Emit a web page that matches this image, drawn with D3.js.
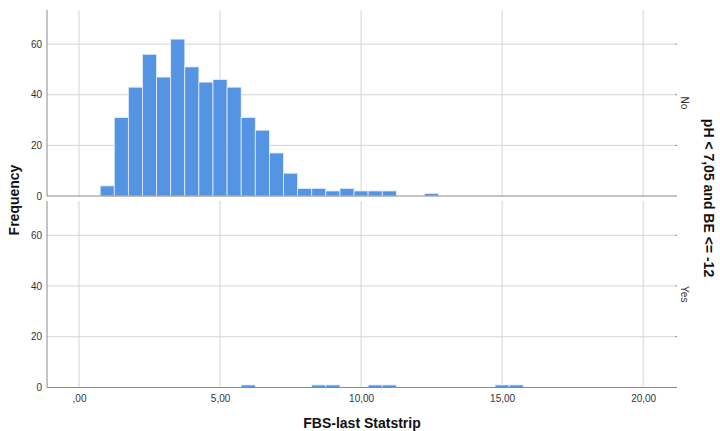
<!DOCTYPE html>
<html><head><meta charset="utf-8">
<script src="https://cdn.jsdelivr.net/npm/d3@7"></script>
<style>body{margin:0;background:#fff}svg{display:block;font-family:"Liberation Sans",Arial,sans-serif}</style>
</head><body><svg id="c" width="720" height="431"></svg>
<script>
const binWidth = 0.5;
const noCenters = [1.0,1.5,2.0,2.5,3.0,3.5,4.0,4.5,5.0,5.5,6.0,6.5,7.0,7.5,8.0,8.5,9.0,9.5,10.0,10.5,11.0,12.5];
const noCounts  = [4,31,43,56,47,62,51,45,46,43,31,26,17,9,3,3,2,3,2,2,2,1];
const yesCenters = [6.0,8.5,9.0,10.5,11.0,15.0,15.5];
const yesCounts  = [1,1,1,1,1,1,1];
const xTicks = [0,5,10,15,20];
const xTickLabels = [",00","5,00","10,00","15,00","20,00"];
const yTicks = [0,20,40,60];
const panelLabels = ["No","Yes"];

const svg = d3.select("#c");
const x = d3.scaleLinear().domain([-1.135, 21.2]).range([47, 677]);
const panels = [
  {label: panelLabels[0], centers: noCenters, counts: noCounts, top: 10, bottom: 196},
  {label: panelLabels[1], centers: yesCenters, counts: yesCounts, top: 201, bottom: 387.5}
];
const grid = "#d4d4d4", axisC = "#8a8a8a", txt = "#333";

panels.forEach(p => {
  const y = d3.scaleLinear().domain([0, 73.5]).range([p.bottom, p.top]);
  const g = svg.append("g");
  // horizontal grid
  g.selectAll(".hg").data(yTicks.filter(d => d > 0)).join("line")
    .attr("x1", 47).attr("x2", 675).attr("y1", d => y(d)).attr("y2", d => y(d))
    .attr("stroke", grid).attr("stroke-width", 1);
  // vertical grid
  g.selectAll(".vg").data(xTicks).join("line")
    .attr("x1", d => x(d)).attr("x2", d => x(d)).attr("y1", p.top).attr("y2", p.bottom)
    .attr("stroke", grid).attr("stroke-width", 1);
  // bars
  g.selectAll(".bar").data(p.centers.map((c, i) => ({c, v: p.counts[i]}))).join("rect")
    .attr("x", d => x(d.c - binWidth / 2)).attr("width", d => x(d.c + binWidth / 2) - x(d.c - binWidth / 2))
    .attr("y", d => y(d.v)).attr("height", d => y(0) - y(d.v))
    .attr("fill", "#5594e3").attr("stroke", "#e6effb").attr("stroke-width", 0.8);
  // axes
  const ya = d3.axisLeft(y).tickValues(yTicks).tickSize(0).tickPadding(5);
  const ag = g.append("g").attr("transform", "translate(47,0)").call(ya);
  ag.select(".domain").attr("stroke", axisC).attr("d", `M0,${p.top}V${p.bottom}`);
  ag.selectAll("text").attr("fill", txt).attr("font-size", 10).attr("font-family", "Liberation Sans, Arial, sans-serif");
  g.append("line").attr("x1", 47).attr("x2", 677).attr("y1", p.bottom).attr("y2", p.bottom)
    .attr("stroke", axisC).attr("stroke-width", 1);
  // right ticks
  g.selectAll(".rt").data(yTicks.filter(d => d > 0)).join("line")
    .attr("x1", 675).attr("x2", 677).attr("y1", d => y(d)).attr("y2", d => y(d)).attr("stroke", axisC);
  // panel label
  g.append("text").attr("transform", `translate(681,${(p.top + p.bottom) / 2}) rotate(90)`)
    .attr("text-anchor", "middle").attr("font-size", 10).attr("fill", txt).text(p.label);
});

// x axis labels
const xa = d3.axisBottom(x).tickValues(xTicks).tickFormat((d, i) => xTickLabels[i]).tickSize(0).tickPadding(6);
const xg = svg.append("g").attr("transform", "translate(0,389)").call(xa);
xg.select(".domain").remove();
xg.selectAll("text").attr("fill", txt).attr("font-size", 10).attr("font-family", "Liberation Sans, Arial, sans-serif");

svg.append("text").attr("x", 362).attr("y", 428).attr("text-anchor", "middle")
  .attr("font-size", 14).attr("font-weight", "bold").attr("fill", "#111").text("FBS-last Statstrip");
svg.append("text").attr("transform", "translate(19,200) rotate(-90)").attr("text-anchor", "middle")
  .attr("font-size", 14).attr("font-weight", "bold").attr("fill", "#111").text("Frequency");
svg.append("text").attr("transform", "translate(704,198) rotate(90)").attr("text-anchor", "middle")
  .attr("font-size", 14).attr("font-weight", "bold").attr("fill", "#111").text("pH < 7,05 and BE <= -12");
</script></body></html>
